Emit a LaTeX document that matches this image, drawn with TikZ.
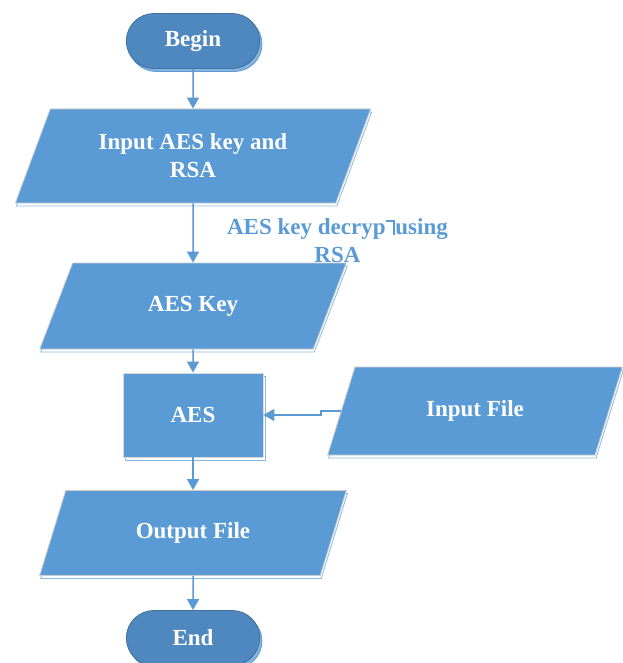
\documentclass[tikz,border=0pt]{standalone}
\usepackage{fontspec}
\setmainfont{Liberation Serif}
\usetikzlibrary{shapes.geometric,shapes.misc,arrows.meta,shadows}
\definecolor{boxblue}{HTML}{5B9BD5}
\definecolor{termblue}{HTML}{4F87BF}
\definecolor{termedge}{HTML}{41719C}
% the odd glyph in the middle of the edge label
\newcommand{\brokenT}{\rule[0.57em]{0.34em}{0.09em}\rule{0.09em}{0.66em}}

\begin{document}
\begin{tikzpicture}[
  x=1pt,y=-1pt,
  flow/.style={-{Triangle[width=12pt,length=11pt]},line width=1.5pt,draw=boxblue},
  txt/.style={font=\fontsize{23}{28}\selectfont\bfseries,text=white,align=center},
  term/.style={txt,rounded rectangle,fill=termblue,draw=termedge,line width=.8pt,
    minimum width=140pt,minimum height=55pt,
    copy shadow={shadow yshift=-3pt,fill=boxblue!75,draw=boxblue}},
  io/.style={txt,trapezium,trapezium stretches=true,fill=boxblue,draw=black!20,
    line width=.8pt,inner sep=2pt,
    copy shadow={shadow xshift=1pt,shadow yshift=-3pt,fill=white,draw=boxblue!70}},
  proc/.style={txt,rectangle,fill=boxblue,draw=black!15,line width=.8pt,
    minimum width=140pt,minimum height=84pt,
    copy shadow={shadow yshift=-3pt,fill=white,draw=boxblue!70}}
]
  \useasboundingbox (0,0) rectangle (622,663);

  \node[term] (begin) at (193,41) {Begin};
  \node[io,trapezium left angle=64,trapezium right angle=116,
    minimum width=356pt,minimum height=94pt] (inkey) at (193,156)
    {Input AES key and\\RSA};
  \node[io,trapezium left angle=62,trapezium right angle=118,
    minimum width=307pt,minimum height=86pt] (aeskey) at (193,306) {AES Key};
  \node[proc] (aes) at (193,415) {AES};
  \node[io,trapezium left angle=65,trapezium right angle=115,
    minimum width=295pt,minimum height=88pt] (infile) at (475,411) {Input File};
  \node[io,trapezium left angle=64,trapezium right angle=116,
    minimum width=307pt,minimum height=85pt] (outfile) at (193,533) {Output File};
  \node[term] (end) at (193,638) {End};

  \draw[flow] (begin) -- (inkey);
  \draw[flow] (inkey) -- (aeskey)
    node[midway,right=30pt,yshift=-8pt,txt,text=boxblue] {AES key decryp\brokenT using\\RSA};
  \draw[flow] (aeskey) -- (aes);
  \draw[flow] (infile.west) -- ++(-20,0) |- (aes.east);
  \draw[flow] (aes) -- (outfile);
  \draw[flow] (outfile) -- (end);
\end{tikzpicture}
\end{document}
